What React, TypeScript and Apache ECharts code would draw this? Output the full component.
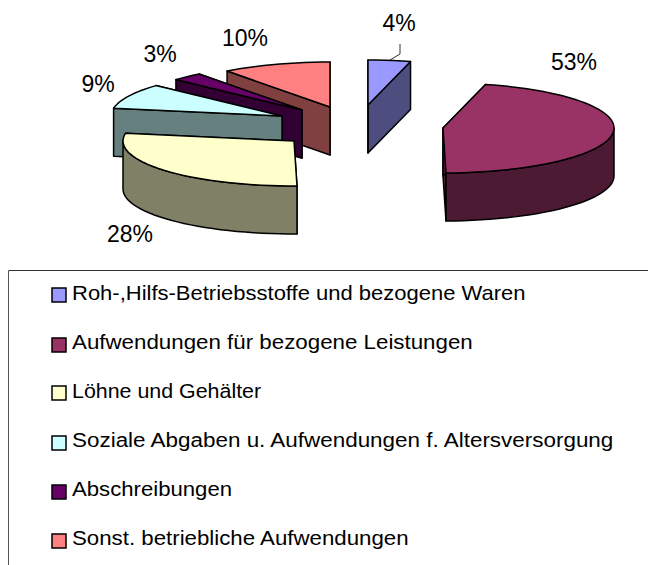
import React, { useEffect, useRef } from "react";
import * as echarts from "echarts";

// Categories and values
const categories = [
  "Roh-,Hilfs-Betriebsstoffe und bezogene Waren",
  "Aufwendungen für bezogene Leistungen",
  "Löhne und Gehälter",
  "Soziale Abgaben u. Aufwendungen f. Altersversorgung",
  "Abschreibungen",
  "Sonst. betriebliche Aufwendungen",
];
const values = [4, 53, 28, 9, 3, 10];
// Slice boundaries in degrees, clockwise from 12 o'clock, as drawn in the picture
const sliceStart = [0, 14.4, 179, 280, 312.5, 323];
const sliceEnd = [14.4, 179, 280, 312.5, 323, 360];
const topColors = ["#9999FF", "#993366", "#FFFFCC", "#CCFFFF", "#660066", "#FF8080"];
const wallColors = ["#4D4D80", "#4D1A33", "#808066", "#668080", "#330033", "#804040"];

// Layout of the exploded pie
const RX = 171;
const RY = 45;
const DEPTH = 48;
const apexes = [[368, 105], [443, 128], [294, 141], [282, 116], [302, 110], [330, 107]];
const labelSpots = [[399, 23], [574, 62], [130, 234], [98, 84], [160, 54], [245, 38]];
const drawOrder = [0, 1, 5, 4, 3, 2];
const legendRows = [293, 342, 391, 440, 489, 538];
const legendBoxes = [288, 338, 386, 436, 485, 534];
const legendStretch = [1.1, 1.116, 1.07, 1.122, 1.108, 1.113];
const FONT = "Liberation Sans, Arial, sans-serif";

function rim(i: number, deg: number, drop = 0): number[] {
  const a = (deg * Math.PI) / 180;
  return [apexes[i][0] + RX * Math.sin(a), apexes[i][1] - RY * Math.cos(a) + drop];
}

function arcPoints(i: number, from: number, to: number, drop = 0): number[][] {
  const steps = Math.max(2, Math.ceil((to - from) / 3));
  const pts: number[][] = [];
  for (let s = 0; s <= steps; s++) pts.push(rim(i, from + ((to - from) * s) / steps, drop));
  return pts;
}

function renderSlice(i: number) {
  return (_params: any, api: any) => {
    const value = api.value(0);
    const start = api.value(1);
    const end = api.value(2);
    const [ax, ay] = apexes[i];
    const edge = { stroke: "#000", lineWidth: 1.5, lineJoin: "round" };
    const wall = { fill: wallColors[i], ...edge };
    const face = (deg: number) => {
      const p = rim(i, deg);
      return {
        type: "polygon",
        shape: { points: [[ax, ay], p, [p[0], p[1] + DEPTH], [ax, ay + DEPTH]] },
        style: wall,
      };
    };
    const children: any[] = [face(end), face(start)];
    const from = Math.max(start, 90);
    const to = Math.min(end, 270);
    if (to > from) {
      children.push({
        type: "polygon",
        shape: { points: [...arcPoints(i, from, to), ...arcPoints(i, from, to, DEPTH).reverse()] },
        style: wall,
      });
    }
    children.push({
      type: "polygon",
      shape: { points: [[ax, ay], ...arcPoints(i, start, end)] },
      style: { fill: topColors[i], ...edge },
    });
    children.push({
      type: "text",
      style: {
        x: labelSpots[i][0],
        y: labelSpots[i][1],
        text: `${value}%`,
        fill: "#000",
        font: `23px ${FONT}`,
        align: "center",
        verticalAlign: "middle",
      },
    });
    return { type: "group", children };
  };
}

export default function App() {
  const ref = useRef<HTMLDivElement>(null);
  useEffect(() => {
    const chart = echarts.init(ref.current!, null, { renderer: "svg" });
    const legendGraphics: any[] = [];
    categories.forEach((name, i) => {
      legendGraphics.push({
        type: "rect",
        shape: { x: 52, y: legendBoxes[i], width: 14, height: 14 },
        style: { fill: topColors[i], stroke: "#000", lineWidth: 1.5 },
      });
      legendGraphics.push({
        type: "text",
        x: 72,
        y: legendRows[i],
        scaleX: legendStretch[i],
        style: {
          text: name,
          fill: "#000",
          font: `20px ${FONT}`,
          align: "left",
          verticalAlign: "middle",
        },
      });
    });
    chart.setOption({
      animation: false,
      backgroundColor: "#fff",
      graphic: [
        {
          type: "line",
          shape: { x1: 8.5, y1: 270.5, x2: 648, y2: 270.5 },
          style: { stroke: "#333", lineWidth: 1 },
        },
        {
          type: "line",
          shape: { x1: 8.5, y1: 270.5, x2: 8.5, y2: 565 },
          style: { stroke: "#555", lineWidth: 1 },
        },
        {
          type: "polyline",
          shape: { points: [[400, 44], [400, 54], [390, 60]] },
          style: { stroke: "#333", fill: "none", lineWidth: 1 },
        },
        ...legendGraphics,
      ],
      series: drawOrder.map((i) => ({
        type: "custom",
        name: categories[i],
        coordinateSystem: "none",
        silent: true,
        data: [[values[i], sliceStart[i], sliceEnd[i]]],
        renderItem: renderSlice(i),
      })),
    });
    return () => chart.dispose();
  }, []);
  return (
    <div
      ref={ref}
      style={{ position: "absolute", left: 0, top: 0, width: 648, height: 565 }}
    />
  );
}
